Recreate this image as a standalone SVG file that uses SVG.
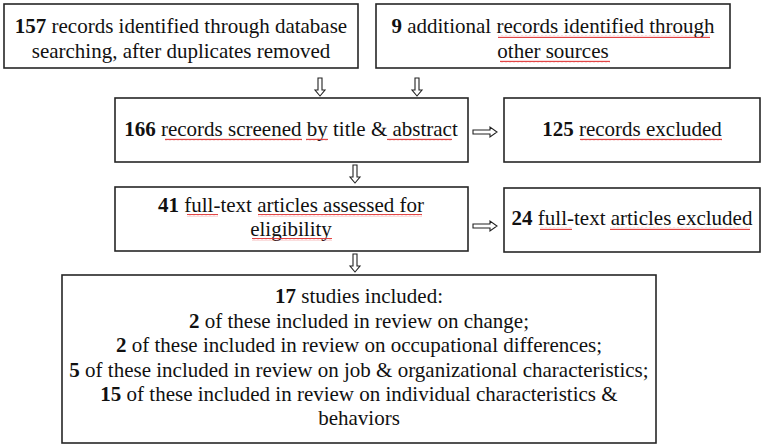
<svg xmlns="http://www.w3.org/2000/svg" width="765" height="447" viewBox="0 0 765 447">
<defs>
<pattern id="wave" patternUnits="userSpaceOnUse" width="4" height="3">
<path d="M0,2.2 L1,0.8 L2,2.2 L3,0.8 L4,2.2" fill="none" stroke="#e03030" stroke-width="0.9"/>
</pattern>
<path id="dn" d="M-2,0 L2,0 L2,12 L5,12 L0,18 L-5,12 L-2,12 Z"/>
<path id="rt" d="M0,-2 L17,-2 L17,-5 L24,0 L17,5 L17,2 L0,2 Z"/>
</defs>
<rect width="765" height="447" fill="#fff"/>

<g id="connectors" fill="#fff" stroke="#222" stroke-width="1.1">
<use href="#dn" x="320" y="78"/>
<use href="#dn" x="417" y="78"/>
<use href="#dn" x="355" y="165"/>
<use href="#dn" x="355" y="254"/>
<use href="#rt" x="473" y="132"/>
<use href="#rt" x="473" y="226"/>
</g>

<g id="node-db" font-family="Liberation Serif, Times New Roman, serif" font-size="21" fill="#111" text-anchor="middle">
<rect x="4" y="4" width="354" height="64" fill="#fff" stroke="#262626" stroke-width="1.6"/>
<text x="181" y="33"><tspan font-weight="bold">157</tspan> records identified through database</text>
<text x="181" y="58">searching, after duplicates removed</text>
</g>

<g id="node-other" font-family="Liberation Serif, Times New Roman, serif" font-size="21" fill="#111" text-anchor="middle">
<rect x="376" y="4" width="354" height="64" fill="#fff" stroke="#262626" stroke-width="1.6"/>
<text x="553" y="33"><tspan font-weight="bold">9</tspan> additional records identified through</text>
<text x="553" y="58">other sources</text>
<rect x="498" y="35" width="212" height="3" fill="url(#wave)"/>
<rect x="500" y="60" width="110" height="3" fill="url(#wave)"/>
</g>

<g id="node-screened" font-family="Liberation Serif, Times New Roman, serif" font-size="21" fill="#111" text-anchor="middle">
<rect x="115" y="98" width="353" height="64" fill="#fff" stroke="#262626" stroke-width="1.6"/>
<text x="291" y="136"><tspan font-weight="bold">166</tspan> records screened by title &amp; abstract</text>
<rect x="165" y="138" width="137" height="3" fill="url(#wave)"/>
<rect x="306" y="138" width="22" height="3" fill="url(#wave)"/>
<rect x="387" y="138" width="65" height="3" fill="url(#wave)"/>
</g>

<g id="node-excluded1" font-family="Liberation Serif, Times New Roman, serif" font-size="21" fill="#111" text-anchor="middle">
<rect x="504" y="98" width="256" height="64" fill="#fff" stroke="#262626" stroke-width="1.6"/>
<text x="632" y="136"><tspan font-weight="bold">125</tspan> records excluded</text>
<rect x="580" y="138" width="142" height="3" fill="url(#wave)"/>
</g>

<g id="node-fulltext" font-family="Liberation Serif, Times New Roman, serif" font-size="21" fill="#111" text-anchor="middle">
<rect x="115" y="187" width="353" height="64" fill="#fff" stroke="#262626" stroke-width="1.6"/>
<text x="291" y="212"><tspan font-weight="bold">41</tspan> full-text articles assessed for</text>
<text x="291" y="236">eligibility</text>
<rect x="187" y="214" width="31" height="3" fill="url(#wave)"/>
<rect x="258" y="214" width="164" height="3" fill="url(#wave)"/>
<rect x="252" y="238" width="80" height="3" fill="url(#wave)"/>
</g>

<g id="node-excluded2" font-family="Liberation Serif, Times New Roman, serif" font-size="21" fill="#111" text-anchor="middle">
<rect x="504" y="188" width="256" height="64" fill="#fff" stroke="#262626" stroke-width="1.6"/>
<text x="632" y="225"><tspan font-weight="bold">24</tspan> full-text articles excluded</text>
<rect x="540" y="227" width="32" height="3" fill="url(#wave)"/>
<rect x="610" y="227" width="140" height="3" fill="url(#wave)"/>
</g>

<g id="node-included" font-family="Liberation Serif, Times New Roman, serif" font-size="21" fill="#111" text-anchor="middle">
<rect x="62" y="275" width="594" height="168" fill="#fff" stroke="#262626" stroke-width="1.6"/>
<text x="359" y="303"><tspan font-weight="bold">17</tspan> studies included:</text>
<text x="359" y="328"><tspan font-weight="bold">2</tspan> of these included in review on change;</text>
<text x="359" y="352"><tspan font-weight="bold">2</tspan> of these included in review on occupational differences;</text>
<text x="359" y="377"><tspan font-weight="bold">5</tspan> of these included in review on job &amp; organizational characteristics;</text>
<text x="359" y="401"><tspan font-weight="bold">15</tspan> of these included in review on individual characteristics &amp;</text>
<text x="359" y="425">behaviors</text>
</g>
</svg>
